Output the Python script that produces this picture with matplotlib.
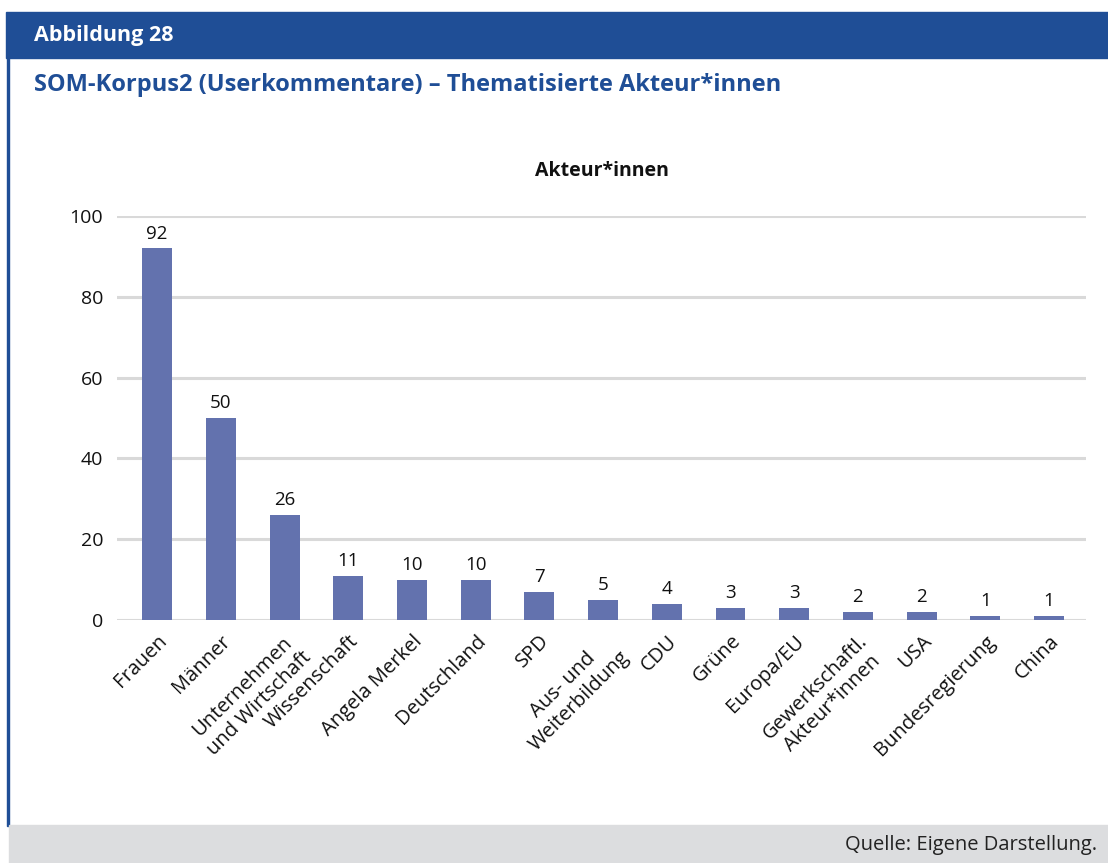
import matplotlib.pyplot as plt
from matplotlib.patches import Rectangle

# Akteur*innen und Anzahl der Nennungen
akteure = ['Frauen', 'Männer', 'Unternehmen\nund Wirtschaft', 'Wissenschaft',
           'Angela Merkel', 'Deutschland', 'SPD', 'Aus- und\nWeiterbildung',
           'CDU', 'Grüne', 'Europa/EU', 'Gewerkschaftl.\nAkteur*innen', 'USA',
           'Bundesregierung', 'China']
anzahl = [92, 50, 26, 11, 10, 10, 7, 5, 4, 3, 3, 2, 2, 1, 1]
y_ticks = [0, 20, 40, 60, 80, 100]

blau = '#1F4E96'
balken = '#6372AE'
grau = '#DCDDDF'

plt.rcParams['font.family'] = ['Open Sans', 'DejaVu Sans']

fig = plt.figure(figsize=(11.08, 8.63), dpi=100)

# Rahmen: Kopfzeile, linke Linie, Quellenzeile
fig.patches.append(Rectangle((6 / 1108, 1 - 58 / 863), 1, 46 / 863,
                             transform=fig.transFigure, color=blau, zorder=0))
fig.patches.append(Rectangle((7 / 1108, 1 - 826 / 863), 2 / 1108, 768 / 863,
                             transform=fig.transFigure, color=blau, zorder=0))
fig.patches.append(Rectangle((9 / 1108, 0), 1, 38 / 863,
                             transform=fig.transFigure, color=grau, zorder=0))

fig.text(34 / 1108, 1 - 36 / 863, 'Abbildung 28', color='white',
         fontsize=15.5, fontweight='bold', va='center', ha='left')
fig.text(34 / 1108, 1 - 85 / 863,
         'SOM-Korpus2 (Userkommentare) – Thematisierte Akteur*innen',
         color=blau, fontsize=17, fontweight='bold', va='center', ha='left')
fig.text(1097 / 1108, 1 - 845 / 863, 'Quelle: Eigene Darstellung.',
         color='#222222', fontsize=14.5, va='center', ha='right')

ax = fig.add_axes([117 / 1108, 1 - 620 / 863, (1086 - 117) / 1108, (620 - 216) / 863])
x = range(len(akteure))
bars = ax.bar(x, anzahl, width=0.47, color=balken, zorder=3)
for b, v in zip(bars, anzahl):
    ax.annotate(str(v), (b.get_x() + b.get_width() / 2, v), xytext=(0, 4),
                textcoords='offset points', ha='center', va='bottom',
                fontsize=13.5, color='#111111')

ax.set_ylim(0, 100)
ax.set_xlim(-0.63, len(akteure) - 0.42)
ax.set_yticks(y_ticks)
ax.yaxis.grid(True, color='#D9D9D9', linewidth=2.2, zorder=0)
ax.set_axisbelow(True)
for s in ax.spines.values():
    s.set_visible(False)
ax.tick_params(axis='both', length=0, labelsize=14, colors='#111111')
ax.tick_params(axis='y', pad=10)
ax.set_xticks(list(x))
ax.set_xticklabels(akteure, rotation=45, ha='right', rotation_mode='anchor',
                   multialignment='center', fontsize=14.5)
ax.tick_params(axis='x', pad=8)

ax.set_title('Akteur*innen', fontsize=14, fontweight='bold', pad=29, color='#111111')

fig.savefig('out.png', dpi=100)
